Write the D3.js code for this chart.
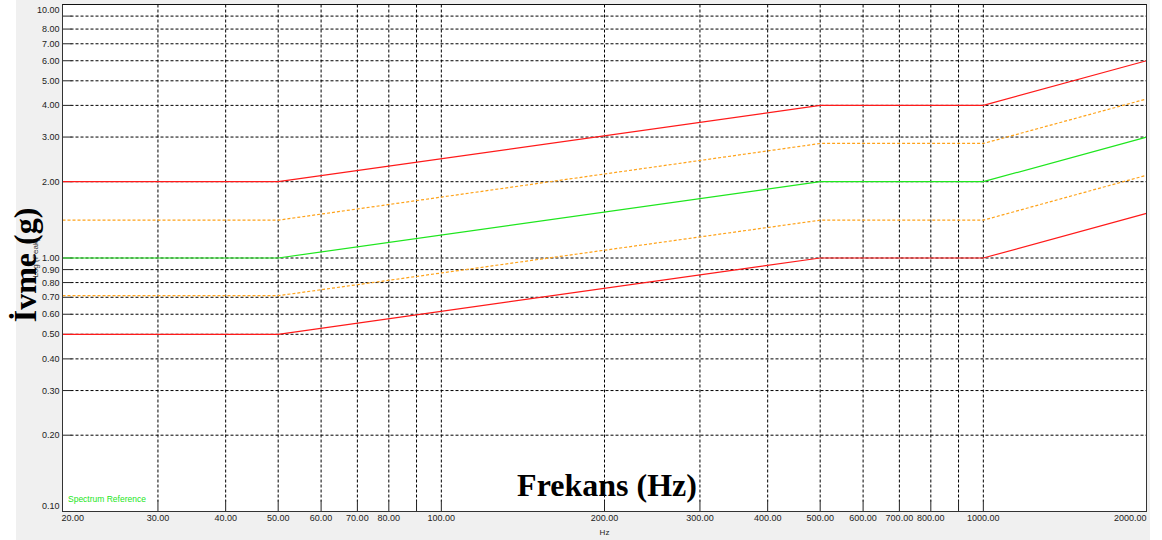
<!DOCTYPE html>
<html>
<head>
<meta charset="utf-8">
<script src="https://cdn.jsdelivr.net/npm/d3@7"></script>
<style>
  body { margin: 0; background: #fff; }
  svg { display: block; }
</style>
</head>
<body>
<svg width="1162" height="540"></svg>
<script>
// spectrum reference limits, g peak vs Hz
var freqs = [20, 50, 500, 1000, 2000];
var redUpper = [2, 2, 4, 4, 6];
var orangeUpper = [1.41, 1.41, 2.83, 2.83, 4.24];
var reference = [1, 1, 2, 2, 3];
var orangeLower = [0.71, 0.71, 1.41, 1.41, 2.12];
var redLower = [0.5, 0.5, 1, 1, 1.5];

var xTicks = [20, 30, 40, 50, 60, 70, 80, 100, 200, 300, 400, 500, 600, 700, 800, 1000, 2000];
var xGrid = [30, 40, 50, 60, 70, 80, 90, 100, 200, 300, 400, 500, 600, 700, 800, 900, 1000];
var yTicks = [0.1, 0.2, 0.3, 0.4, 0.5, 0.6, 0.7, 0.8, 0.9, 1, 2, 3, 4, 5, 6, 7, 8, 10];
var yGrid = [0.2, 0.3, 0.4, 0.5, 0.6, 0.7, 0.8, 0.9, 1, 2, 3, 4, 5, 6, 7, 8, 9];

var svg = d3.select("svg"),
    pLeft = 62.5, pRight = 1146.5, pTop = 4.5, pBottom = 511.5;

var x = d3.scaleLog().domain([20, 2000]).range([pLeft, pRight]);
var y = d3.scaleLog().domain([0.1, 10]).range([pBottom, pTop]);

// panel background
svg.append("rect").attr("x", 16).attr("y", 0).attr("width", 1134).attr("height", 540).attr("fill", "#f0f0f0");
svg.append("rect").attr("x", pLeft).attr("y", pTop).attr("width", pRight - pLeft).attr("height", pBottom - pTop).attr("fill", "#fff");

// grid
var grid = svg.append("g").attr("stroke", "#000").attr("stroke-width", 1).attr("stroke-dasharray", "3,2");
grid.selectAll(".gx").data(xGrid).enter().append("line")
    .attr("x1", function(d) { return x(d); }).attr("x2", function(d) { return x(d); })
    .attr("y1", pTop).attr("y2", pBottom - 10);
grid.selectAll(".gy").data(yGrid).enter().append("line")
    .attr("x1", pLeft + 8).attr("x2", pRight)
    .attr("y1", function(d) { return y(d); }).attr("y2", function(d) { return y(d); });

// inner ticks
var ticks = svg.append("g").attr("stroke", "#222").attr("stroke-width", 1);
ticks.selectAll(".tx").data(xGrid).enter().append("line")
    .attr("x1", function(d) { return x(d); }).attr("x2", function(d) { return x(d); })
    .attr("y1", pBottom - 11).attr("y2", pBottom);
ticks.selectAll(".ty").data(yGrid).enter().append("line")
    .attr("x1", pLeft).attr("x2", pLeft + 9)
    .attr("y1", function(d) { return y(d); }).attr("y2", function(d) { return y(d); });

// series
var line = d3.line().x(function(d) { return x(d[0]); }).y(function(d) { return y(d[1]); });
var series = [
  { v: redLower, c: "#ff1a1a", dash: null },
  { v: orangeLower, c: "#ffa31a", dash: "3,2" },
  { v: reference, c: "#1ee61e", dash: null },
  { v: orangeUpper, c: "#ffa31a", dash: "3,2" },
  { v: redUpper, c: "#ff1a1a", dash: null }
];
series.forEach(function(s) {
  svg.append("path")
      .datum(d3.zip(freqs, s.v))
      .attr("d", line)
      .attr("fill", "none")
      .attr("stroke", s.c)
      .attr("stroke-width", 1.2)
      .attr("stroke-dasharray", s.dash);
});

// frame
svg.append("rect").attr("x", pLeft).attr("y", pTop).attr("width", pRight - pLeft).attr("height", pBottom - pTop)
    .attr("fill", "none").attr("stroke", "#333").attr("stroke-width", 1);
svg.append("line").attr("x1", pLeft).attr("x2", pRight).attr("y1", pTop).attr("y2", pTop).attr("stroke", "#111");

// tick labels
var fmt = d3.format(".2f");
svg.selectAll(".xl").data(xTicks).enter().append("text")
    .attr("x", function(d, i) { return i == 0 ? pLeft - 1 : (i == xTicks.length - 1 ? pRight : x(d)); })
    .attr("y", 521)
    .attr("text-anchor", function(d, i) { return i == 0 ? "start" : (i == xTicks.length - 1 ? "end" : "middle"); })
    .attr("font-family", "Liberation Sans, Arial, sans-serif").attr("font-size", "9px").attr("fill", "#222")
    .text(function(d) { return fmt(d); });
svg.selectAll(".yl").data(yTicks).enter().append("text")
    .attr("x", pLeft - 3)
    .attr("y", function(d) { return Math.min(Math.max(y(d), 10), 506) + 3; })
    .attr("text-anchor", "end")
    .attr("font-family", "Liberation Sans, Arial, sans-serif").attr("font-size", "9px").attr("fill", "#222")
    .text(function(d) { return fmt(d); });

svg.append("text").attr("x", (pLeft + pRight) / 2).attr("y", 535).attr("text-anchor", "middle")
    .attr("font-family", "Liberation Sans, Arial, sans-serif").attr("font-size", "8px").attr("fill", "#222")
    .text("Hz");

svg.append("text").attr("x", 68).attr("y", 502)
    .attr("font-family", "Liberation Sans, Arial, sans-serif").attr("font-size", "8.5px").attr("fill", "#22e622")
    .text("Spectrum Reference");

// original small axis title, partly covered
svg.append("text").attr("transform", "translate(38,258) rotate(-90)").attr("text-anchor", "middle")
    .attr("font-family", "Liberation Sans, Arial, sans-serif").attr("font-size", "8px").attr("fill", "#333")
    .text("Log (Peak)");

// overlaid titles
svg.append("text").attr("transform", "translate(36,265) rotate(-90)").attr("text-anchor", "middle")
    .attr("font-family", "Liberation Serif, Times New Roman, serif").attr("font-weight", "bold")
    .attr("font-size", "32px").attr("fill", "#000")
    .text("İvme (g)");
svg.append("text").attr("x", 607).attr("y", 496).attr("text-anchor", "middle")
    .attr("font-family", "Liberation Serif, Times New Roman, serif").attr("font-weight", "bold")
    .attr("font-size", "32px").attr("fill", "#000")
    .text("Frekans (Hz)");
</script>
</body>
</html>
